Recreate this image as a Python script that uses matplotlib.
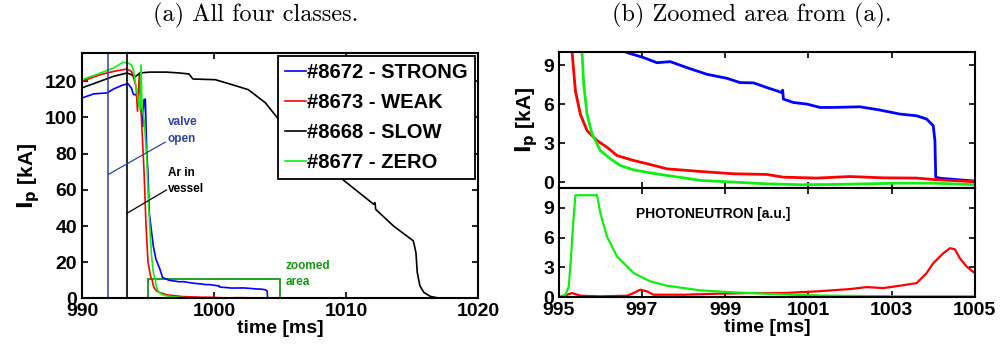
import matplotlib
matplotlib.use('Agg')
from matplotlib import pyplot as plt
from matplotlib.patches import Rectangle

plt.rcParams['font.family'] = ['Liberation Sans', 'DejaVu Sans']
plt.rcParams['font.weight'] = 'bold'
plt.rcParams['mathtext.default'] = 'bf'

# ---- data ----
labels = ['#8672 - STRONG', '#8673 - WEAK', '#8668 - SLOW', '#8677 - ZERO']
colors = ['#0000ff', '#ff0000', '#000000', '#11ee11']

# plasma current, full shot [ms], [kA]
t_strong = [990, 990.9, 991.9, 992.4, 993.1, 993.5, 993.75, 993.9, 994.1, 994.25,
            994.5, 994.6, 994.7, 994.8, 994.9, 995.0, 995.1, 995.4, 995.6, 995.9,
            996.1, 996.6, 997.04, 997.36, 997.68, 998.08, 998.56, 999.04, 999.36,
            999.68, 1000.0, 1000.36, 1000.38, 1000.4, 1000.64, 1000.96, 1001.28,
            1001.6, 1002.24, 1002.72, 1003.2, 1003.6, 1003.84, 1004.0, 1004.04,
            1004.06, 1004.16, 1005.0]
ip_strong = [110.7, 113, 113.5, 115.7, 117.9, 118.5, 116, 112.6, 112.6, 108.9,
             104, 95, 110, 110, 82, 69, 47, 29, 21.7, 16.2,
             11.6, 10.0, 9.57, 9.18, 9.26, 8.8, 8.29, 7.98, 7.65,
             7.63, 7.27, 6.89, 7.07, 6.38, 6.12, 6.0, 5.74,
             5.74, 5.79, 5.54, 5.23, 5.10, 4.85, 4.34, 3.2,
             0.38, 0.3, 0.08]

t_weak = [990, 991.4, 992.4, 993.4, 993.75, 993.9, 994.1, 994.2, 994.35, 994.45,
          994.5, 994.7, 994.85, 995.0, 995.2, 995.32, 995.4, 995.52, 995.68, 995.92,
          996.16, 996.4, 996.8, 997.2, 997.6, 998.4, 999.2, 1000.0, 1000.4,
          1001.2, 1002.0, 1002.8, 1003.6, 1004.0, 1005.0]
ip_weak = [120, 123.6, 125.4, 126.7, 125.4, 122, 117, 103.4, 124.5, 105,
           100, 70, 40, 20, 12, 9.95, 7.0, 5.2, 3.95, 3.19,
           2.68, 2.04, 1.66, 1.35, 1.02, 0.82, 0.64, 0.59, 0.38,
           0.31, 0.43, 0.33, 0.31, 0.2, 0.03]

t_slow = [990, 991.4, 992.4, 993.4, 993.75, 994.0, 994.4, 995.1, 996.4, 997.4,
          998.1, 998.4, 1000.1, 1001.4, 1002.6, 1003.9, 1005.1, 1007.5, 1009.9,
          1012.1, 1012.2, 1012.25, 1013.6, 1015.1, 1015.3, 1015.4, 1015.6,
          1015.9, 1016.4, 1017.1, 1017.6]
ip_slow = [116.3, 120, 122.7, 124.5, 123.6, 122.3, 124.5, 125, 125, 124.5,
           124, 121.2, 120.8, 118, 115.3, 108, 97, 81, 64.8,
           52, 52.9, 49.2, 40, 31.8, 25.3, 14.3, 7,
           3.3, 1.1, 0.1, 0]

t_zero = [990, 991.4, 992.4, 993.1, 993.5, 993.75, 993.9, 994.0, 994.2, 994.25,
          994.4, 994.47, 994.55, 994.7, 994.9, 995.05, 995.25, 995.4, 995.56,
          995.6, 995.68, 995.8, 996.0, 996.24, 996.48, 996.8, 997.2, 997.6,
          998.0, 998.4, 999.2, 1000.0, 1000.8, 1001.6, 1002.4, 1003.2, 1004.0,
          1005.0]
ip_zero = [120.8, 124.5, 127.3, 130.4, 130, 129, 126, 121, 112.6, 109.8,
           104, 129, 106, 99, 78, 51, 25, 14.3, 9.95,
           7.5, 5.2, 3.7, 2.42, 1.79, 1.28, 0.94, 0.71, 0.51,
           0.33, 0.13, 0.0, -0.13, -0.2, -0.18, -0.13, -0.08, -0.08,
           -0.2]

# photoneutron signal [a.u.]
t_pn_zero = [995.0, 995.16, 995.24, 995.29, 995.34, 995.4, 995.92, 996.0, 996.16,
             996.4, 996.8, 997.2, 997.6, 998.4, 999.2, 1000.0, 1000.8, 1001.6,
             1003.2, 1005.0]
pn_zero = [0, 0.23, 1.07, 3.75, 7.1, 10.27, 10.27, 8.43, 6.09,
           4.08, 2.41, 1.57, 1.14, 0.67, 0.47, 0.33, 0.2, 0.13,
           0.07, 0.07]

t_pn_weak = [995.04, 995.2, 995.32, 995.52, 996.0, 996.64, 996.8, 996.96, 997.12,
             997.28, 998.0, 998.8, 999.6, 1000.4, 1001.2, 1002.0, 1002.4, 1002.8,
             1003.2, 1003.6, 1003.84, 1004.0, 1004.24, 1004.4, 1004.52, 1004.64,
             1004.8, 1005.0]
pn_weak = [0, 0.23, 0.4, 0.13, 0.07, 0.13, 0.4, 0.74, 0.57,
           0.23, 0.23, 0.33, 0.4, 0.4, 0.57, 0.8, 1.0, 0.9,
           1.14, 1.4, 2.41, 3.41, 4.41, 4.92, 4.82, 3.91,
           3.08, 2.41]

t_valve = 992.0
t_argon = 993.4

series = [(t_strong, ip_strong), (t_weak, ip_weak), (t_slow, ip_slow), (t_zero, ip_zero)]

fig = plt.figure(figsize=(10.05, 3.54), dpi=100)
ax1 = fig.add_axes([0.0816, 0.157, 0.394, 0.693])
ax2 = fig.add_axes([0.556, 0.469, 0.414, 0.384])
ax3 = fig.add_axes([0.556, 0.161, 0.414, 0.308])


def style(ax):
    ax.tick_params(direction='in', top=True, right=True, labelsize=14,
                   width=1.2, length=4)
    for s in ax.spines.values():
        s.set_linewidth(1.5)
    for lab in ax.get_xticklabels() + ax.get_yticklabels():
        lab.set_fontweight('bold')


# (a) all four classes
for (t, ip), c, lab in zip(series, colors, labels):
    ax1.plot(t, ip, color=c, lw=1.2, label=lab)
ax1.axvline(t_valve, color='#2a44a0', lw=1.1)
ax1.axvline(t_argon, color='black', lw=1.2)
ax1.add_patch(Rectangle((995, 0), 10, 10.5, fill=False, edgecolor='#119911', lw=1.3))
ax1.plot([992.0, 996.3], [68.5, 86.3], color='#2a44a0', lw=0.9)
ax1.plot([993.4, 996.4], [47, 59.9], color='black', lw=0.9)
ax1.text(996.5, 85, 'valve\nopen', color='#2a44a0', fontsize=8.5,
         fontweight='bold', va='bottom', linespacing=1.5)
ax1.text(996.5, 57, 'Ar in\nvessel', color='black', fontsize=8.5,
         fontweight='bold', va='bottom', linespacing=1.5)
ax1.text(1005.4, 5.5, 'zoomed\narea', color='#119911', fontsize=8.5,
         fontweight='bold', va='bottom', linespacing=1.5)
ax1.set_xlim(990, 1020)
ax1.set_ylim(0, 135.5)
ax1.set_xticks([990, 1000, 1010, 1020])
ax1.set_yticks([0, 20, 40, 60, 80, 100, 120])
ax1.set_xlabel('time [ms]', fontsize=14, fontweight='bold', labelpad=0)
ax1.set_ylabel(r'$\mathbf{I_p}$ [kA]', fontsize=15, fontweight='bold', labelpad=2)
leg = ax1.legend(loc='upper right', prop={'weight': 'bold', 'size': 14.5},
                 handlelength=1.05, handletextpad=0.05, borderpad=0.35,
                 labelspacing=0.55, borderaxespad=0.15, fancybox=False,
                 framealpha=1, edgecolor='black')
leg.get_frame().set_linewidth(1.3)
style(ax1)

# (b) zoomed area
for (t, ip), c in zip(series, colors):
    ax2.plot(t, ip, color=c, lw=2.0)
ax2.set_xlim(995, 1005)
ax2.set_ylim(-0.45, 10)
ax2.set_xticks([995, 997, 999, 1001, 1003, 1005])
ax2.set_xticklabels([])
ax2.set_yticks([0, 3, 6, 9])
ax2.set_ylabel(r'$\mathbf{I_p}$ [kA]', fontsize=15, fontweight='bold', labelpad=2)
style(ax2)

ax3.plot(t_pn_weak, pn_weak, color=colors[1], lw=1.6)
ax3.plot(t_pn_zero, pn_zero, color=colors[3], lw=1.6)
ax3.text(996.85, 8.4, 'PHOTONEUTRON [a.u.]', fontsize=10, fontweight='bold', va='center')
ax3.set_xlim(995, 1005)
ax3.set_ylim(0, 11)
ax3.set_xticks([995, 997, 999, 1001, 1003, 1005])
ax3.set_yticks([0, 3, 6, 9])
ax3.set_xlabel('time [ms]', fontsize=14, fontweight='bold', labelpad=0)
style(ax3)

fig.text(0.254, 0.955, '(a) All four classes.', family='cmr10', fontsize=17.5,
         ha='center', va='center', fontweight='normal')
fig.text(0.748, 0.955, '(b) Zoomed area from (a).', family='cmr10', fontsize=17.5,
         ha='center', va='center', fontweight='normal')

fig.savefig('out.png', dpi=100)
